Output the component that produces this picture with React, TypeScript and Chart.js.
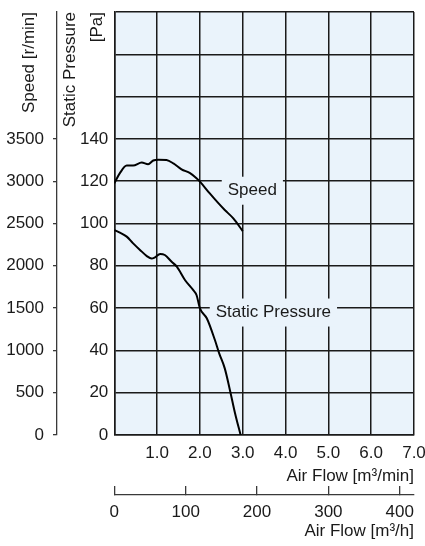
import React, { useEffect, useRef } from "react";
import { Chart, registerables } from "chart.js";

Chart.register(...registerables);

// ---- data ----
const speedFlow = [0, 0.13, 0.29, 0.44, 0.64, 0.79, 0.91, 1.03, 1.22, 1.38, 1.57, 1.77, 1.92, 2.0, 2.23, 2.43, 2.58, 2.78, 3.0];
const speedValues = [2975, 3095, 3185, 3185, 3220, 3200, 3245, 3255, 3250, 3210, 3140, 3095, 3035, 2995, 2855, 2740, 2660, 2560, 2410];

const pressureFlow = [0, 0.13, 0.29, 0.44, 0.6, 0.76, 0.87, 0.95, 1.07, 1.18, 1.34, 1.46, 1.65, 1.84, 1.92, 2.0, 2.16, 2.35, 2.45, 2.58, 2.7, 2.82, 2.95];
const pressureValues = [96.9, 95.7, 93.8, 90.6, 87.5, 84.6, 83.4, 84, 85.6, 85.1, 81.9, 79.6, 73.3, 68.6, 66.2, 59.9, 55.2, 44.9, 38.6, 31.5, 21.3, 10.3, 0];

const flowMinMax = 7; // m3/min
const flowHourMax = 420; // m3/h (7 * 60)
const flowMinStep = 1;
const flowHourStep = 100;
const pressureMax = 200;
const pressureStep = 20;
const pressureLabelMax = 140;
const speedMax = 5000;
const speedStep = 500;
const speedLabelMax = 3500;

const curveLabels = ["Speed", "Static Pressure"];
const curveLabelFlow = [2.65, 2.37];
const curveLabelPressure = [115.5, 57.9];

const xTitleMin = "Air Flow [m³/min]";
const xTitleHour = "Air Flow [m³/h]";
const yTitlePressure = ["Static Pressure", "[Pa]"];
const yTitleSpeed = "Speed [r/min]";

// ---- styles ----
const FONT = "'Liberation Sans', Arial, sans-serif";
const FS = 17;
const PLOT_BG = "#eaf3fb";
const GRID = "#1a1a1a";
const AXIS = "#3a3a3a";
const TEXT = "#1a1a1a";

const font = (size = FS, lineHeight = 1.2) => ({ family: FONT, size, lineHeight });

export default function App() {
  const ref = useRef<HTMLCanvasElement | null>(null);

  useEffect(() => {
    if (!ref.current) return;

    const bgPlugin = {
      id: "plotBg",
      beforeDraw(chart: any) {
        const { ctx, chartArea: a } = chart;
        ctx.save();
        ctx.fillStyle = PLOT_BG;
        ctx.fillRect(a.left, a.top, a.right - a.left, a.bottom - a.top);
        ctx.restore();
      },
    };

    const labelPlugin = {
      id: "curveLabels",
      beforeDatasetsDraw(chart: any) {
        const { ctx } = chart;
        const xs = chart.scales.x;
        const ys = chart.scales.y;
        ctx.save();
        ctx.font = `${FS}px ${FONT}`;
        ctx.textBaseline = "middle";
        ctx.textAlign = "left";
        curveLabels.forEach((t, i) => {
          const px = xs.getPixelForValue(curveLabelFlow[i]);
          const py = ys.getPixelForValue(curveLabelPressure[i]);
          const w = ctx.measureText(t).width;
          ctx.fillStyle = PLOT_BG;
          ctx.fillRect(px - 6, py - 14, w + 12, 28);
          ctx.fillStyle = TEXT;
          ctx.fillText(t, px, py);
        });
        ctx.restore();
      },
    };

    const chart = new Chart(ref.current, {
      type: "line",
      data: {
        datasets: [
          {
            label: "Speed",
            data: speedFlow.map((x, i) => ({ x, y: speedValues[i] })),
            xAxisID: "x",
            yAxisID: "speed",
            borderColor: "#000",
            borderWidth: 2,
            pointRadius: 0,
            fill: false,
            cubicInterpolationMode: "monotone",
          },
          {
            label: "Static Pressure",
            data: pressureFlow.map((x, i) => ({ x, y: pressureValues[i] })),
            xAxisID: "x",
            yAxisID: "y",
            borderColor: "#000",
            borderWidth: 2,
            pointRadius: 0,
            fill: false,
            cubicInterpolationMode: "monotone",
          },
        ],
      },
      options: {
        responsive: false,
        animation: false,
        devicePixelRatio: 1,
        layout: { padding: { top: 12, right: 11, left: 0, bottom: 0 } },
        plugins: { legend: { display: false }, tooltip: { enabled: false } },
        scales: {
          x: {
            type: "linear",
            position: "bottom",
            weight: 0,
            min: 0,
            max: flowMinMax,
            ticks: {
              stepSize: flowMinStep,
              autoSkip: false,
              maxRotation: 0,
              padding: 7.8,
              color: TEXT,
              font: font(),
              callback: (v: any) => (Number(v) === 0 ? "" : Number(v).toFixed(1)),
            },
            grid: { color: GRID, lineWidth: 1.5, drawTicks: false },
            border: { display: true, color: GRID, width: 1.5 },
            title: {
              display: true,
              text: xTitleMin,
              align: "end",
              color: TEXT,
              font: font(),
              padding: { top: 0, bottom: 8.3 },
            },
            afterFit: (s: any) => {
              s.height = 60;
              s.paddingLeft = 0;
              s.paddingRight = 0;
            },
          },
          xh: {
            type: "linear",
            position: "bottom",
            weight: 1,
            min: 0,
            max: flowHourMax,
            ticks: {
              stepSize: flowHourStep,
              includeBounds: false,
              autoSkip: false,
              maxRotation: 0,
              padding: 15.8,
              color: TEXT,
              font: font(),
              callback: (v: any) => String(v),
            },
            grid: { drawOnChartArea: false, drawTicks: true, tickLength: -9, color: AXIS, lineWidth: 1.3 },
            border: { display: true, color: AXIS, width: 1.3 },
            title: {
              display: true,
              text: xTitleHour,
              align: "end",
              color: TEXT,
              font: font(),
              padding: { top: 0, bottom: 4.1 },
            },
            afterFit: (s: any) => {
              s.height = 51;
              s.paddingLeft = 0;
              s.paddingRight = 0;
            },
          },
          y: {
            type: "linear",
            position: "left",
            weight: 0,
            min: 0,
            max: pressureMax,
            ticks: {
              stepSize: pressureStep,
              padding: 6,
              color: TEXT,
              font: font(),
              callback: (v: any) => (Number(v) > pressureLabelMax ? "" : String(v)),
            },
            grid: { color: GRID, lineWidth: 1.5, drawTicks: false },
            border: { display: true, color: GRID, width: 1.5 },
            title: {
              display: true,
              text: yTitlePressure,
              align: "end",
              color: TEXT,
              font: font(FS, 1.59),
              padding: { top: 0.2, bottom: 0 },
            },
            afterFit: (s: any) => {
              s.width = 57.3;
              s.paddingTop = 0;
              s.paddingBottom = 0;
            },
          },
          speed: {
            type: "linear",
            position: "left",
            weight: 1,
            min: 0,
            max: speedMax,
            afterBuildTicks: (s: any) => {
              s.ticks = s.ticks.filter((t: any) => t.value <= speedLabelMax);
            },
            ticks: {
              stepSize: speedStep,
              padding: 9,
              color: TEXT,
              font: font(),
              callback: (v: any) => String(v),
            },
            grid: { drawOnChartArea: false, drawTicks: true, tickLength: 4, color: AXIS, lineWidth: 1.3 },
            border: { display: true, color: AXIS, width: 1.3 },
            title: {
              display: true,
              text: yTitleSpeed,
              align: "end",
              color: TEXT,
              font: font(),
              padding: { top: 18.8, bottom: 0 },
            },
            afterFit: (s: any) => {
              s.width = 57;
              s.paddingTop = 0;
              s.paddingBottom = 0;
            },
          },
        },
      } as any,
      plugins: [bgPlugin, labelPlugin],
    });

    return () => chart.destroy();
  }, []);

  return (
    <div style={{ position: "fixed", left: 0, top: 0, width: 425, height: 546, background: "#fff" }}>
      <canvas ref={ref} width={425} height={546} />
    </div>
  );
}
